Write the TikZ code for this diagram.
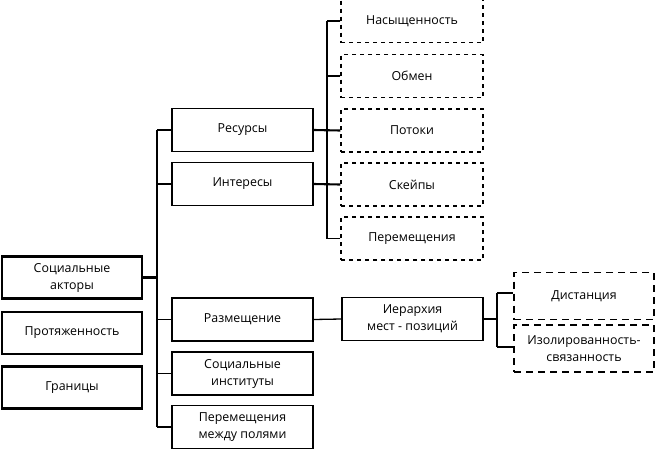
\documentclass[tikz,border=0pt]{standalone}
\usepackage{fontspec}
\setmainfont{Open Sans}
\begin{document}
\begin{tikzpicture}[x=1pt,y=-1pt,
  every node/.style={font=\fontsize{12.4}{17}\selectfont, align=center, inner sep=0pt},
  leftbox/.style={draw, line width=2.6pt, minimum width=140pt, minimum height=42pt},
  midbox/.style={draw, line width=1.5pt, minimum width=141pt, minimum height=43pt},
  dbox/.style={draw, line width=1.3pt, dash pattern=on 4pt off 4pt, minimum width=142pt, minimum height=43pt},
  dboxb/.style={draw, line width=1.9pt, dash pattern=on 7pt off 5pt, minimum width=140pt, minimum height=47pt},
  conn/.style={line width=1.3pt},
  connb/.style={line width=2.1pt}]
\useasboundingbox (0,0) rectangle (655,450);
% left column
\node[leftbox] (sa) at (72,277.5) {Социальные\\акторы};
\node[leftbox] (prot) at (72,333) {Протяженность};
\node[leftbox] (gran) at (72,387.5) {Границы};
% middle column
\node[midbox] (res) at (242.5,130) {Ресурсы};
\node[midbox] (int) at (242.5,184) {Интересы};
\node[midbox] (razm) at (242.5,319.5) {Размещение};
\node[midbox] (inst) at (242.5,373.5) {Социальные\\институты};
\node[midbox, line width=1.9pt] (mezh) at (242.5,427) {Перемещения\\между полями};
% right dashed column
\node[dbox] (nas) at (412,21) {Насыщенность};
\node[dbox] (obm) at (412,76) {Обмен};
\node[dbox] (pot) at (412,130.5) {Потоки};
\node[dbox] (sk) at (412,184.5) {Скейпы};
\node[dbox] (per) at (412,238.5) {Перемещения};
% hierarchy
\node[midbox] (ier) at (412.5,319) {Иерархия\\мест - позиций};
\node[dboxb] (dist) at (584,296) {Дистанция};
\node[dboxb] (izol) at (584,348.5) {Изолированность-\\связанность};
% trunk
\coordinate (t1) at (157,130);
\coordinate (t2) at (157,427);
\draw[conn] (t1) -- (t2);
\draw[connb] (sa.east) -- (sa.east -| t1);
\draw[connb] (res.west) -- (t1);
\draw[conn] (int.west) -- (int.west -| t1);
\draw[conn] (razm.west) -- (razm.west -| t1);
\draw[conn] (inst.west) -- (inst.west -| t1);
\draw[connb] (mezh.west) -- (t2);
% resources branch
\coordinate (r1) at (327,21);
\coordinate (r2) at (327,238.5);
\draw[conn] (r1) -- (r2);
\draw[connb] (res.east) -- (pot.west);
\draw[connb] (int.east) -- (sk.west);
\draw[connb] (nas.west) -- (r1);
\draw[connb] (obm.west) -- (obm.west -| r1);
\draw[conn] (per.west) -- (r2);
% hierarchy branch
\draw[conn] (razm.east) -- (ier.west);
\coordinate (h1) at (497,293);
\coordinate (h2) at (497,347);
\draw[conn] (ier.east) -- (ier.east -| h1);
\draw[conn] (h1) -- (h2);
\draw[conn] (h1) -- (h1 -| dist.west);
\draw[conn] (h2) -- (h2 -| izol.west);
\end{tikzpicture}
\end{document}
